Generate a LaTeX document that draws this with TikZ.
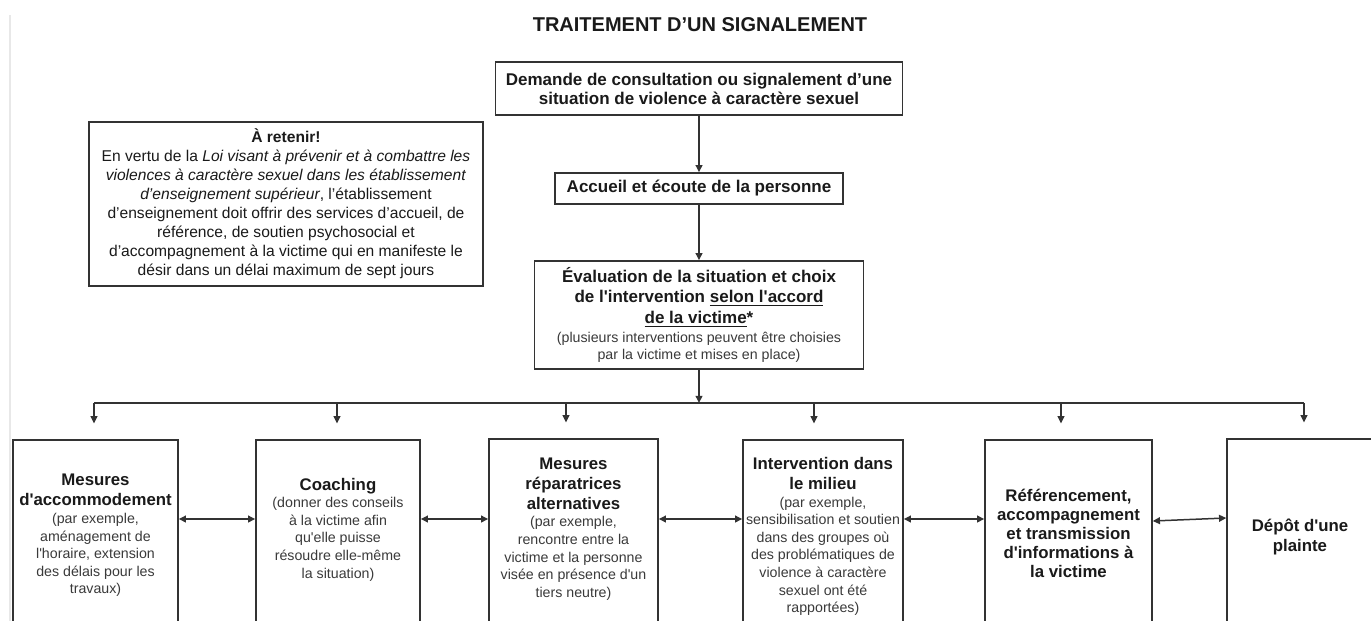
\documentclass[tikz,border=0pt]{standalone}
\usepackage{fontspec}
\setmainfont{Liberation Sans}[Ligatures=TeXOff]
\usetikzlibrary{arrows.meta}
\definecolor{linec}{HTML}{333333}
\definecolor{txt}{HTML}{1A1A1A}
\definecolor{txts}{HTML}{3A3A3A}
\newcommand\hdfont{\bfseries\fontsize{8.4}{10}\selectfont}
\newcommand\smfont{\color{txts}\fontsize{7.1}{8.8}\selectfont}
\begin{document}
\begin{tikzpicture}[x=0.5pt,y=-0.5pt,
  box/.style={draw=linec, line width=0.75pt, inner sep=0pt, text=txt},
  lbox/.style={draw=linec, line width=0.75pt, inner sep=0pt, anchor=north, minimum height=100pt},
  ltxt/.style={align=flush center, text width=100pt, inner sep=0pt, text=txt},
  conn/.style={draw=linec, line width=0.75pt},
  arr/.style={conn, -{Triangle[length=3.6pt,width=3.4pt]}},
  dbl/.style={conn, {Triangle[length=3.6pt,width=3.4pt]}-{Triangle[length=3.6pt,width=3.4pt]}}]
\useasboundingbox (0,0) rectangle (1371,621);
\fill[white] (0,0) rectangle (1371,621);
\draw[gray!18, line width=1pt] (10,15) -- (10,621);

\node[font=\bfseries\fontsize{10}{12}\selectfont, text=txt] (title) at (700,25) {TRAITEMENT D’UN SIGNALEMENT};

\node[box, minimum width=203.5pt, minimum height=26.5pt, align=center,
      font=\bfseries\fontsize{8.5}{9.5}\selectfont] (dem) at (699,88.5)
  {Demande de consultation ou signalement d’une\\situation de violence à caractère sexuel};

\node[box, minimum width=144pt, minimum height=15.5pt,
      font=\bfseries\fontsize{8.5}{9.5}\selectfont] (acc) at (699,188.5)
  {Accueil et écoute de la personne};

\node[box, minimum width=164.5pt, minimum height=54pt, text width=160pt, align=flush center] (eva) at (699,315)
  {{\bfseries\fontsize{8.5}{10.25}\selectfont Évaluation de la situation et choix\\de l'intervention \underline{selon l'accord}\\\underline{de la victime}*\par}\vspace{0.8pt}%
   {\smfont (plusieurs interventions peuvent être choisies\\par la victime et mises en place)\par}};

\node[box, minimum width=197pt, minimum height=82pt, text width=195pt, align=flush center,
      font=\fontsize{7.8}{9.5}\selectfont] (ret) at (286,204)
  {\textbf{À retenir!}\\
   En vertu de la \textit{Loi visant à prévenir et à combattre les}\\
   \textit{violences à caractère sexuel dans les établissement}\\
   \textit{d’enseignement supérieur}, l’établissement\\
   d’enseignement doit offrir des services d’accueil, de\\
   référence, de soutien psychosocial et\\
   d’accompagnement à la victime qui en manifeste le\\
   désir dans un délai maximum de sept jours};

% bottom boxes
\node[lbox, minimum width=82.5pt] (b1) at (95.5,439) {};
\node[lbox, minimum width=82pt] (b2) at (338,439) {};
\node[lbox, minimum width=84.5pt] (b3) at (573.5,438) {};
\node[lbox, minimum width=80pt] (b4) at (823,439) {};
\node[lbox, minimum width=83.5pt] (b5) at (1068.5,439) {};
\node[lbox, minimum width=75pt] (b6) at (1302,438) {};

\node[ltxt] (l1) at (95.5,535.5)
  {{\hdfont Mesures\\d'accommodement\par}{\smfont (par exemple,\\aménagement de\\l'horaire, extension\\des délais pour les\\travaux)\par}};
\node[ltxt] (l2) at (338,529.5)
  {{\hdfont Coaching\par}{\smfont (donner des conseils\\à la victime afin\\qu'elle puisse\\résoudre elle-même\\la situation)\par}};
\node[ltxt] (l3) at (573.5,529)
  {{\hdfont Mesures\\réparatrices\\alternatives\par}{\smfont (par exemple,\\rencontre entre la\\victime et la personne\\visée en présence d'un\\tiers neutre)\par}};
\node[ltxt] (l4) at (823,536.5)
  {{\hdfont Intervention dans\\le milieu\par}{\smfont (par exemple,\\sensibilisation et soutien\\dans des groupes où\\des problématiques de\\violence à caractère\\sexuel ont été\\rapportées)\par}};
\node[ltxt] (l5) at (1068.5,533.5)
  {{\hdfont\fontsize{8.4}{9.6}\selectfont Référencement,\\accompagnement\\et transmission\\d'informations à\\la victime\par}};
\node[ltxt] (l6) at (1300,537)
  {{\hdfont Dépôt d'une\\plainte\par}};

% connectors
\draw[arr] (dem) -- (acc);
\draw[arr] (acc) -- (eva);
\coordinate (j0) at (699,403);
\draw[arr] (eva) -- (j0);
\coordinate (t1) at (94,403);
\coordinate (t2) at (337,403);
\coordinate (t3) at (566,403);
\coordinate (t4) at (814,403);
\coordinate (t5) at (1061,403);
\coordinate (t6) at (1304,403);
\draw[conn] (t1) -- (t6);
\foreach \i in {1,...,6} {
  \draw[arr, shorten >=7.8pt] (t\i) -- (t\i |- b\i.north);
}
\coordinate (r) at (0,519);
\coordinate (ra) at (0,521);
\coordinate (rb) at (0,518);
\draw[dbl] (b1.east |- r) -- (b2.west |- r);
\draw[dbl] (b2.east |- r) -- (b3.west |- r);
\draw[dbl] (b3.east |- r) -- (b4.west |- r);
\draw[dbl] (b4.east |- r) -- (b5.west |- r);
\draw[dbl] (b5.east |- ra) -- (b6.west |- rb);
\end{tikzpicture}
\end{document}
